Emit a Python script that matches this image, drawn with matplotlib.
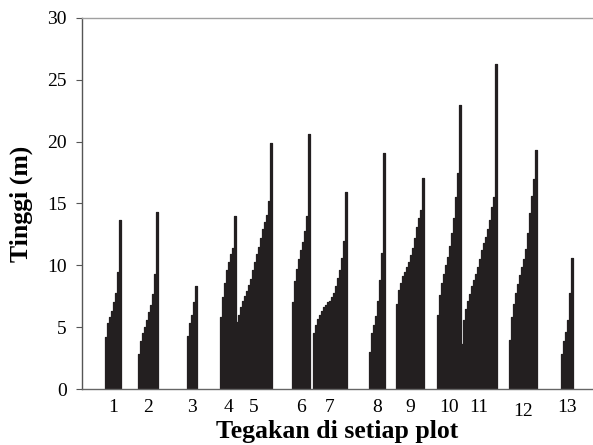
import matplotlib.pyplot as plt
from matplotlib.transforms import ScaledTranslation
import numpy as np

# tree heights (m) in each plot, sorted from shortest to tallest
plot1 = [4.2, 5.3, 5.8, 6.3, 7.0, 7.8, 9.5, 13.7]
plot2 = [2.8, 3.9, 4.5, 5.0, 5.6, 6.2, 6.8, 7.7, 9.3, 14.3]
plot3 = [4.3, 5.3, 6.0, 7.0, 8.3]
plot4 = [5.8, 7.4, 8.6, 9.6, 10.3, 10.9, 11.4, 14.0]
plot5 = [5.4, 6.0, 6.6, 7.1, 7.5, 7.9, 8.4, 8.9, 9.6, 10.3, 10.9, 11.5,
         12.2, 12.9, 13.5, 14.1, 15.2, 19.9]
plot6 = [7.0, 8.7, 9.7, 10.5, 11.2, 11.9, 12.8, 14.0, 20.6]
plot7 = [4.5, 5.2, 5.7, 6.0, 6.3, 6.6, 6.8, 7.0, 7.1, 7.4, 7.8, 8.3, 9.0,
         9.6, 10.6, 12.0, 15.9]
plot8 = [3.0, 4.5, 5.2, 5.9, 7.1, 8.8, 11.0, 19.1]
plot9 = [6.9, 8.0, 8.6, 9.1, 9.5, 9.9, 10.3, 10.8, 11.4, 12.2, 13.1, 13.8,
         14.5, 17.1]
plot10 = [6.0, 7.6, 8.6, 9.3, 10.0, 10.7, 11.6, 12.6, 13.8, 15.5, 17.5, 23.0]
plot11 = [3.6, 5.6, 6.5, 7.1, 7.7, 8.3, 8.8, 9.3, 9.9, 10.5, 11.2, 11.8,
          12.3, 12.9, 13.7, 14.7, 15.5, 26.3]
plot12 = [4.0, 5.8, 6.9, 7.8, 8.5, 9.2, 9.9, 10.5, 11.3, 12.6, 14.2, 15.6,
          17.0, 19.3]
plot13 = [2.8, 3.9, 4.6, 5.6, 7.8, 10.6]

plots = [plot1, plot2, plot3, plot4, plot5, plot6, plot7, plot8, plot9,
         plot10, plot11, plot12, plot13]
plot_labels = ['1', '2', '3', '4', '5', '6', '7', '8', '9', '10', '11', '12', '13']

# empty space (in bar widths) before each plot group
gaps = [11.5, 8.5, 14.5, 11.5, 0, 10, 1.5, 11, 5.5, 6.5, 0, 6, 12]

plt.rcParams['font.family'] = ['Liberation Serif', 'DejaVu Serif']

fig = plt.figure(figsize=(5.93, 4.45), dpi=100)
ax = fig.add_axes([82 / 593, 56 / 445, 510 / 593, 371 / 445])

col = '#231f20'
pos = 0
centers = []
for heights, gap in zip(plots, gaps):
    pos += gap
    x = pos + np.arange(len(heights) + 1)
    y = heights + [heights[-1]]
    # bars of one plot drawn edge to edge as one step shape
    ax.fill_between(x, y, step='post', color=col, edgecolor=col, linewidth=0.9)
    centers.append(pos + len(heights) / 2)
    pos += len(heights)

ax.set_xlim(0, 255)
ax.set_ylim(0, 30)
ax.set_yticks([0, 5, 10, 15, 20, 25, 30])
ax.set_xticks(centers)
ax.set_xticklabels(plot_labels)

ax.tick_params(axis='y', direction='out', length=4, width=0.8, color='#555555',
               labelsize=14, pad=7)
ax.tick_params(axis='x', length=0, labelsize=14, pad=7)

# label "12" sits a little lower in the original
lab12 = ax.get_xticklabels()[11]
lab12.set_transform(lab12.get_transform() + ScaledTranslation(0, -4 / 100, fig.dpi_scale_trans))

ax.spines['right'].set_visible(False)
ax.spines['left'].set_color('#555555')
ax.spines['bottom'].set_color('#666666')
ax.spines['top'].set_color('#a0a0a0')
for s in ['left', 'bottom', 'top']:
    ax.spines[s].set_linewidth(1.0)

ax.set_xlabel('Tegakan di setiap plot', fontsize=18.5, fontweight='bold', labelpad=0)
ax.set_ylabel('Tinggi (m)', fontsize=18.5, fontweight='bold', labelpad=10)

fig.savefig('out.png', dpi=100)
